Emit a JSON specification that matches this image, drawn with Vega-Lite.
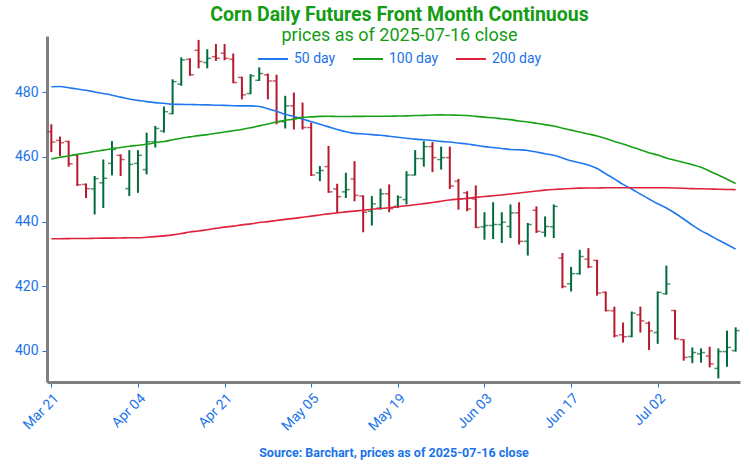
{
  "$schema": "https://vega.github.io/schema/vega-lite/v6.json",
  "width": 693,
  "height": 346,
  "autosize": {"type": "none"},
  "padding": {"left": 47, "top": 36, "right": 10, "bottom": 86},
  "config": {
    "font": "Roboto",
    "view": {"stroke": null},
    "axis": {"grid": false}
  },
  "title": {
    "text": "Corn Daily Futures Front Month Continuous",
    "subtitle": "prices as of 2025-07-16 close",
    "color": "#149c14",
    "subtitleColor": "#149c14",
    "fontSize": 19.5,
    "fontWeight": "bold",
    "subtitleFontSize": 18,
    "subtitlePadding": 2,
    "anchor": "middle",
    "dx": 6,
    "offset": -10
  },
  "data": {
    "values": [
      {"date":"2025-03-21","open":467.8,"high":470.1,"low":461.5,"close":464.6,"ma50":481.7,"ma100":459.4,"ma200":434.7},
      {"date":"2025-03-24","open":465.1,"high":466.3,"low":460.3,"close":464.4,"ma50":481.8,"ma100":459.9,"ma200":434.7},
      {"date":"2025-03-25","open":464.8,"high":465.0,"low":457.0,"close":457.9,"ma50":481.4,"ma100":460.3,"ma200":434.75},
      {"date":"2025-03-26","open":460.5,"high":460.8,"low":451.0,"close":451.4,"ma50":481.0,"ma100":460.8,"ma200":434.8},
      {"date":"2025-03-27","open":451.5,"high":451.8,"low":447.3,"close":450.2,"ma50":480.6,"ma100":461.2,"ma200":434.8},
      {"date":"2025-03-28","open":450.1,"high":454.1,"low":442.2,"close":453.3,"ma50":480.1,"ma100":461.7,"ma200":434.85},
      {"date":"2025-03-31","open":452.0,"high":459.2,"low":444.2,"close":453.4,"ma50":479.6,"ma100":462.1,"ma200":434.9},
      {"date":"2025-04-01","open":458.0,"high":464.9,"low":454.3,"close":462.3,"ma50":479.1,"ma100":462.55,"ma200":434.9},
      {"date":"2025-04-02","open":460.5,"high":460.8,"low":454.1,"close":459.2,"ma50":478.5,"ma100":462.9,"ma200":434.95},
      {"date":"2025-04-03","open":450.2,"high":462.1,"low":447.9,"close":457.7,"ma50":477.9,"ma100":463.3,"ma200":435.0},
      {"date":"2025-04-04","open":458.0,"high":462.1,"low":448.9,"close":460.5,"ma50":477.5,"ma100":463.6,"ma200":435.0},
      {"date":"2025-04-07","open":456.1,"high":467.5,"low":454.6,"close":464.7,"ma50":477.1,"ma100":463.9,"ma200":435.15},
      {"date":"2025-04-08","open":464.7,"high":469.6,"low":462.9,"close":468.8,"ma50":476.8,"ma100":464.4,"ma200":435.35},
      {"date":"2025-04-09","open":468.0,"high":475.6,"low":467.5,"close":474.0,"ma50":476.6,"ma100":464.8,"ma200":435.6},
      {"date":"2025-04-10","open":473.4,"high":484.0,"low":473.2,"close":483.3,"ma50":476.3,"ma100":465.3,"ma200":435.9},
      {"date":"2025-04-11","open":482.5,"high":490.8,"low":482.0,"close":490.0,"ma50":476.25,"ma100":465.8,"ma200":436.3},
      {"date":"2025-04-14","open":490.2,"high":490.5,"low":485.1,"close":485.4,"ma50":476.2,"ma100":466.2,"ma200":436.8},
      {"date":"2025-04-15","open":493.0,"high":496.2,"low":487.4,"close":489.5,"ma50":476.15,"ma100":466.6,"ma200":437.1},
      {"date":"2025-04-16","open":489.2,"high":493.3,"low":487.4,"close":490.5,"ma50":476.1,"ma100":466.9,"ma200":437.5},
      {"date":"2025-04-17","open":491.0,"high":494.9,"low":489.7,"close":490.5,"ma50":476.0,"ma100":467.3,"ma200":437.9},
      {"date":"2025-04-21","open":492.1,"high":494.9,"low":489.9,"close":490.5,"ma50":475.95,"ma100":467.7,"ma200":438.3},
      {"date":"2025-04-22","open":490.2,"high":492.0,"low":482.8,"close":483.0,"ma50":475.85,"ma100":468.1,"ma200":438.6},
      {"date":"2025-04-23","open":484.6,"high":484.8,"low":477.8,"close":479.2,"ma50":475.8,"ma100":468.5,"ma200":439.0},
      {"date":"2025-04-24","open":479.6,"high":485.6,"low":479.4,"close":485.1,"ma50":475.8,"ma100":469.0,"ma200":439.3},
      {"date":"2025-04-25","open":483.7,"high":487.7,"low":483.5,"close":485.8,"ma50":475.6,"ma100":469.6,"ma200":439.7},
      {"date":"2025-04-28","open":485.4,"high":485.8,"low":477.8,"close":483.5,"ma50":474.9,"ma100":470.2,"ma200":440.0},
      {"date":"2025-04-29","open":483.5,"high":485.4,"low":470.1,"close":470.9,"ma50":474.1,"ma100":470.8,"ma200":440.35},
      {"date":"2025-04-30","open":470.9,"high":478.9,"low":468.8,"close":475.8,"ma50":473.2,"ma100":471.3,"ma200":440.7},
      {"date":"2025-05-01","open":475.8,"high":479.9,"low":468.5,"close":472.2,"ma50":472.5,"ma100":471.7,"ma200":441.0},
      {"date":"2025-05-02","open":472.2,"high":476.8,"low":468.5,"close":469.1,"ma50":471.7,"ma100":472.2,"ma200":441.35},
      {"date":"2025-05-05","open":469.1,"high":470.6,"low":454.1,"close":454.4,"ma50":470.9,"ma100":472.4,"ma200":441.7},
      {"date":"2025-05-06","open":455.1,"high":457.2,"low":452.5,"close":455.8,"ma50":470.1,"ma100":472.55,"ma200":442.05},
      {"date":"2025-05-07","open":457.0,"high":463.4,"low":448.9,"close":449.2,"ma50":469.3,"ma100":472.6,"ma200":442.4},
      {"date":"2025-05-08","open":450.1,"high":451.7,"low":442.7,"close":447.7,"ma50":468.5,"ma100":472.5,"ma200":442.7},
      {"date":"2025-05-09","open":449.2,"high":455.1,"low":447.3,"close":449.9,"ma50":467.8,"ma100":472.5,"ma200":443.0},
      {"date":"2025-05-12","open":453.2,"high":458.7,"low":446.3,"close":448.1,"ma50":467.3,"ma100":472.55,"ma200":443.25},
      {"date":"2025-05-13","open":447.9,"high":448.1,"low":436.7,"close":442.9,"ma50":467.1,"ma100":472.55,"ma200":443.5},
      {"date":"2025-05-14","open":443.2,"high":447.9,"low":438.8,"close":445.5,"ma50":466.9,"ma100":472.6,"ma200":443.8},
      {"date":"2025-05-15","open":444.2,"high":450.2,"low":443.7,"close":448.6,"ma50":466.7,"ma100":472.6,"ma200":444.05},
      {"date":"2025-05-16","open":448.6,"high":451.5,"low":442.9,"close":444.0,"ma50":466.4,"ma100":472.6,"ma200":444.3},
      {"date":"2025-05-19","open":444.7,"high":448.1,"low":444.2,"close":447.5,"ma50":466.1,"ma100":472.65,"ma200":444.6},
      {"date":"2025-05-20","open":446.8,"high":455.6,"low":445.3,"close":454.4,"ma50":465.8,"ma100":472.7,"ma200":444.9},
      {"date":"2025-05-21","open":454.4,"high":462.1,"low":454.3,"close":459.5,"ma50":465.5,"ma100":472.8,"ma200":445.2},
      {"date":"2025-05-22","open":459.5,"high":464.9,"low":457.0,"close":463.2,"ma50":465.3,"ma100":472.85,"ma200":445.55},
      {"date":"2025-05-23","open":463.2,"high":464.6,"low":455.3,"close":459.8,"ma50":465.1,"ma100":472.95,"ma200":445.9},
      {"date":"2025-05-27","open":459.2,"high":463.2,"low":456.1,"close":459.8,"ma50":464.8,"ma100":473.0,"ma200":446.3},
      {"date":"2025-05-28","open":459.8,"high":463.2,"low":450.1,"close":451.0,"ma50":464.6,"ma100":472.95,"ma200":446.7},
      {"date":"2025-05-29","open":452.5,"high":453.2,"low":443.7,"close":447.0,"ma50":464.3,"ma100":472.9,"ma200":446.95},
      {"date":"2025-05-30","open":448.9,"high":449.4,"low":443.2,"close":443.9,"ma50":464.0,"ma100":472.8,"ma200":447.2},
      {"date":"2025-06-02","open":447.0,"high":451.2,"low":438.0,"close":438.2,"ma50":463.6,"ma100":472.55,"ma200":447.5},
      {"date":"2025-06-03","open":438.4,"high":442.9,"low":434.4,"close":438.8,"ma50":463.2,"ma100":472.3,"ma200":447.75},
      {"date":"2025-06-04","open":438.8,"high":446.0,"low":434.6,"close":439.1,"ma50":462.9,"ma100":472.1,"ma200":448.0},
      {"date":"2025-06-05","open":439.1,"high":442.9,"low":433.4,"close":439.8,"ma50":462.6,"ma100":471.8,"ma200":448.25},
      {"date":"2025-06-06","open":438.5,"high":445.3,"low":434.9,"close":442.7,"ma50":462.3,"ma100":471.55,"ma200":448.55},
      {"date":"2025-06-09","open":442.7,"high":446.0,"low":432.9,"close":433.9,"ma50":462.2,"ma100":471.1,"ma200":448.85},
      {"date":"2025-06-10","open":433.9,"high":439.6,"low":429.5,"close":439.1,"ma50":462.0,"ma100":470.8,"ma200":449.15},
      {"date":"2025-06-11","open":443.5,"high":444.7,"low":436.5,"close":437.0,"ma50":461.5,"ma100":470.4,"ma200":449.45},
      {"date":"2025-06-12","open":436.7,"high":441.6,"low":435.3,"close":438.5,"ma50":461.0,"ma100":470.0,"ma200":449.75},
      {"date":"2025-06-13","open":438.4,"high":445.3,"low":434.9,"close":444.7,"ma50":460.5,"ma100":469.55,"ma200":449.95},
      {"date":"2025-06-16","open":428.7,"high":430.3,"low":419.4,"close":419.9,"ma50":459.7,"ma100":468.9,"ma200":450.1},
      {"date":"2025-06-17","open":420.8,"high":426.0,"low":418.4,"close":423.9,"ma50":458.8,"ma100":468.3,"ma200":450.25},
      {"date":"2025-06-18","open":423.9,"high":431.3,"low":423.6,"close":429.2,"ma50":458.2,"ma100":467.7,"ma200":450.35},
      {"date":"2025-06-20","open":428.4,"high":431.8,"low":425.6,"close":426.0,"ma50":457.5,"ma100":467.1,"ma200":450.4},
      {"date":"2025-06-23","open":428.0,"high":428.2,"low":417.1,"close":417.9,"ma50":456.4,"ma100":466.5,"ma200":450.4},
      {"date":"2025-06-24","open":418.1,"high":418.4,"low":412.2,"close":412.5,"ma50":454.8,"ma100":465.7,"ma200":450.45},
      {"date":"2025-06-25","open":412.4,"high":413.7,"low":404.2,"close":404.7,"ma50":453.2,"ma100":464.8,"ma200":450.45},
      {"date":"2025-06-26","open":405.0,"high":408.8,"low":402.6,"close":404.4,"ma50":451.5,"ma100":464.0,"ma200":450.45},
      {"date":"2025-06-27","open":404.5,"high":412.2,"low":404.2,"close":411.7,"ma50":450.1,"ma100":463.1,"ma200":450.45},
      {"date":"2025-06-30","open":411.2,"high":413.7,"low":405.7,"close":409.3,"ma50":448.5,"ma100":462.2,"ma200":450.45},
      {"date":"2025-07-01","open":408.6,"high":409.1,"low":400.3,"close":406.2,"ma50":447.0,"ma100":461.3,"ma200":450.45},
      {"date":"2025-07-02","open":405.7,"high":418.4,"low":402.2,"close":418.1,"ma50":445.5,"ma100":460.6,"ma200":450.45},
      {"date":"2025-07-03","open":417.7,"high":426.4,"low":417.4,"close":420.7,"ma50":444.2,"ma100":459.7,"ma200":450.45},
      {"date":"2025-07-07","open":412.5,"high":412.7,"low":403.5,"close":403.8,"ma50":442.6,"ma100":459.0,"ma200":450.4},
      {"date":"2025-07-08","open":403.5,"high":403.6,"low":397.0,"close":398.0,"ma50":440.8,"ma100":458.3,"ma200":450.3},
      {"date":"2025-07-09","open":398.2,"high":401.1,"low":396.2,"close":399.5,"ma50":438.9,"ma100":457.6,"ma200":450.2},
      {"date":"2025-07-10","open":399.1,"high":400.8,"low":396.4,"close":399.5,"ma50":437.2,"ma100":456.8,"ma200":450.15},
      {"date":"2025-07-11","open":398.4,"high":401.3,"low":394.9,"close":396.0,"ma50":435.8,"ma100":455.6,"ma200":450.1},
      {"date":"2025-07-14","open":394.6,"high":400.8,"low":391.5,"close":399.8,"ma50":434.3,"ma100":454.4,"ma200":450.0},
      {"date":"2025-07-15","open":399.8,"high":406.3,"low":395.1,"close":401.1,"ma50":432.9,"ma100":453.1,"ma200":449.95},
      {"date":"2025-07-16","open":400.1,"high":407.3,"low":399.8,"close":406.3,"ma50":431.5,"ma100":451.8,"ma200":449.9}
    ]
  },
  "encoding": {
    "x": {
      "field": "date",
      "type": "ordinal",
      "sort": null,
      "scale": {"type": "point", "padding": 0.5},
      "axis": {
        "values": ["2025-03-21","2025-04-04","2025-04-21","2025-05-05","2025-05-19","2025-06-03","2025-06-17","2025-07-02"],
        "labelExpr": "utcFormat(toDate(datum.value), '%b %d')",
        "labelAngle": -45,
        "labelColor": "#1a73e8",
        "labelFontSize": 14,
        "labelPadding": 4,
        "tickColor": "#1a73e8",
        "tickSize": 5,
        "domainColor": "#808080",
        "domainWidth": 3,
        "title": "Source: Barchart, prices as of 2025-07-16 close",
        "titleColor": "#1a73e8",
        "titleFontSize": 12.5,
        "titleFontWeight": "bold",
        "titleBaseline": "alphabetic",
        "titleY": 74
      }
    }
  },
  "layer": [
    {
      "mark": {"type": "rule", "strokeWidth": 2},
      "encoding": {
        "y": {
          "field": "low",
          "type": "quantitative",
          "scale": {"domain": [390.4, 497.4], "nice": false, "zero": false},
          "axis": {
            "values": [400, 420, 440, 460, 480],
            "title": null,
            "labelColor": "#1a73e8",
            "labelFontSize": 14,
            "tickColor": "#1a73e8",
            "tickSize": 5,
            "labelPadding": 4,
            "domainColor": "#808080",
            "domainWidth": 3
          }
        },
        "y2": {"field": "high"},
        "color": {
          "condition": {"test": "datum.close < datum.open", "value": "#b5192c"},
          "value": "#006b3a"
        }
      }
    },
    {
      "mark": {"type": "tick", "size": 4, "thickness": 1.5, "xOffset": -2},
      "encoding": {
        "y": {"field": "open", "type": "quantitative"},
        "color": {
          "condition": {"test": "datum.close < datum.open", "value": "#b5192c"},
          "value": "#006b3a"
        }
      }
    },
    {
      "mark": {"type": "tick", "size": 4, "thickness": 1.5, "xOffset": 2},
      "encoding": {
        "y": {"field": "close", "type": "quantitative"},
        "color": {
          "condition": {"test": "datum.close < datum.open", "value": "#b5192c"},
          "value": "#006b3a"
        }
      }
    },
    {
      "transform": [{"fold": ["ma50", "ma100", "ma200"], "as": ["series", "value"]}],
      "mark": {"type": "line", "strokeWidth": 1.6, "interpolate": "monotone"},
      "encoding": {
        "y": {"field": "value", "type": "quantitative"},
        "color": {
          "field": "series",
          "type": "nominal",
          "scale": {"domain": ["ma50", "ma100", "ma200"], "range": ["#1f78f0", "#18a018", "#e0213d"]},
          "legend": {
            "title": null,
            "orient": "none",
            "direction": "horizontal",
            "legendX": 210,
            "legendY": 7,
            "symbolType": "stroke",
            "symbolSize": 900,
            "symbolStrokeWidth": 2,
            "labelColor": "#1a73e8",
            "labelFontSize": 14,
            "labelOffset": 5,
            "columnPadding": 13,
            "padding": 0,
            "labelExpr": "replace(datum.label, 'ma', '') + ' day'"
          }
        }
      }
    }
  ]
}
